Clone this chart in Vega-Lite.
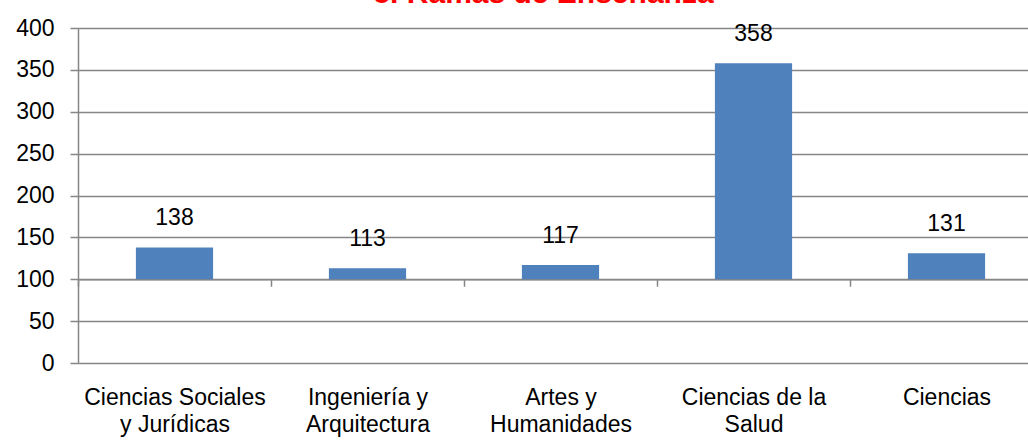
{
  "$schema": "https://vega.github.io/schema/vega-lite/v6.json",
  "autosize": "none",
  "padding": {"left": 78, "top": 28, "right": 0, "bottom": 78},
  "width": 965,
  "height": 335,
  "background": "white",
  "title": {
    "text": "5. Ramas de Enseñanza",
    "color": "#ff0000",
    "font": "Liberation Sans",
    "fontSize": 30,
    "fontWeight": "bold",
    "anchor": "middle",
    "frame": "group",
    "baseline": "alphabetic",
    "offset": 0,
    "dy": 16,
    "dx": -17
  },
  "config": {
    "view": {"stroke": null},
    "font": "Liberation Sans"
  },
  "data": {
    "values": [
      {"rama": "Ciencias Sociales y Jurídicas", "valor": 138},
      {"rama": "Ingeniería y Arquitectura", "valor": 113},
      {"rama": "Artes y Humanidades", "valor": 117},
      {"rama": "Ciencias de la Salud", "valor": 358},
      {"rama": "Ciencias", "valor": 131}
    ]
  },
  "encoding": {
    "x": {
      "field": "rama",
      "type": "nominal",
      "sort": null,
      "scale": {"paddingInner": 0, "paddingOuter": 0},
      "axis": {
        "title": null,
        "offset": -83.75,
        "labelAngle": 0,
        "labelFont": "Liberation Sans",
        "labelFontSize": 23,
        "labelColor": "#000000",
        "labelPadding": 100,
        "labelBaseline": "top",
        "labelLineHeight": 27,
        "labelLimit": 300,
        "labelExpr": "datum.label == 'Ciencias Sociales y Jurídicas' ? ['Ciencias Sociales', 'y Jurídicas'] : datum.label == 'Ingeniería y Arquitectura' ? ['Ingeniería y', 'Arquitectura'] : datum.label == 'Artes y Humanidades' ? ['Artes y', 'Humanidades'] : datum.label == 'Ciencias de la Salud' ? ['Ciencias de la', 'Salud'] : datum.label",
        "domainColor": "#868686",
        "domainWidth": 1.5,
        "tickColor": "#868686",
        "tickWidth": 1.5,
        "tickSize": 7,
        "tickBand": "extent",
        "grid": false
      }
    }
  },
  "layer": [
    {
      "mark": {"type": "bar", "color": "#4f81bd", "width": {"band": 0.4}},
      "encoding": {
        "y": {
          "field": "valor",
          "type": "quantitative",
          "scale": {"domain": [0, 400], "nice": false},
          "axis": {
            "title": null,
            "values": [0, 50, 100, 150, 200, 250, 300, 350, 400],
            "grid": true,
            "gridColor": "#868686",
            "gridWidth": 1.5,
            "domainColor": "#868686",
            "domainWidth": 1.5,
            "tickColor": "#868686",
            "tickWidth": 1.5,
            "tickSize": 8,
            "labelFont": "Liberation Sans",
            "labelFontSize": 23,
            "labelColor": "#000000",
            "labelPadding": 16
          }
        },
        "y2": {"datum": 100}
      }
    },
    {
      "mark": {"type": "text", "font": "Liberation Sans", "fontSize": 23, "color": "#000000", "baseline": "alphabetic", "dy": -22},
      "encoding": {
        "y": {"field": "valor", "type": "quantitative"},
        "text": {"field": "valor", "type": "quantitative"}
      }
    }
  ]
}
